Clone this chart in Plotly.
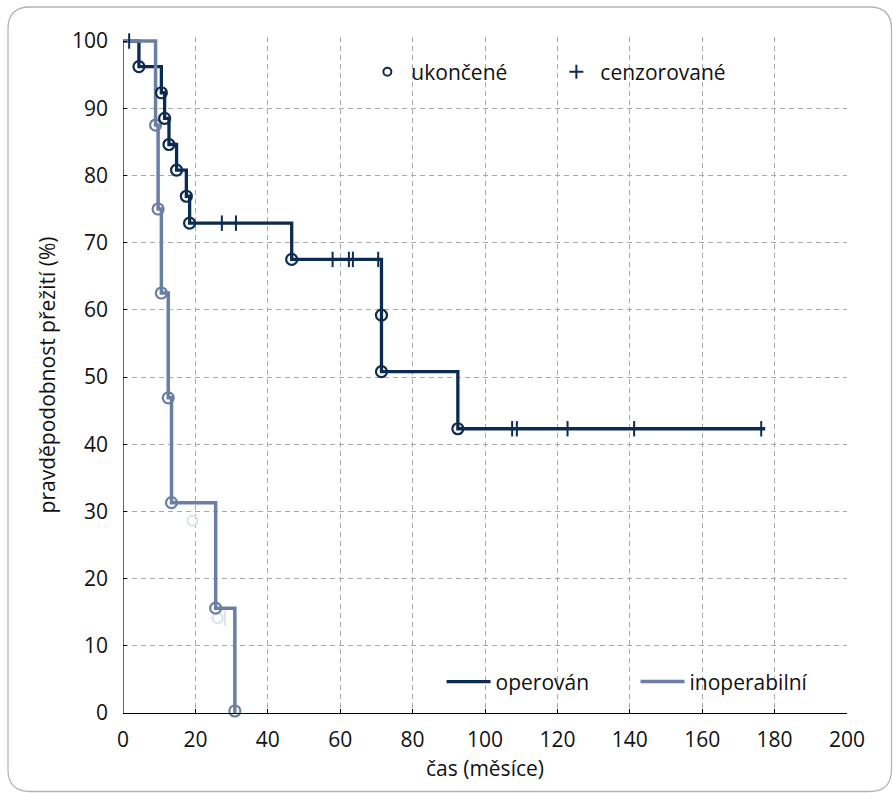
import plotly.graph_objects as go

# ---------------- data ----------------
# operován (operated) – Kaplan-Meier steps
op_x = [0, 4.4, 10.6, 11.5, 12.7, 14.8, 17.5, 18.4, 46.6, 71.4, 71.4, 92.5, 177.4]
op_y = [100, 96.2, 92.3, 88.5, 84.6, 80.8, 76.9, 72.9, 67.5, 59.2, 50.8, 42.3, 42.3]
# events (ukončené) on the operated curve
op_ev_x = [4.4, 10.6, 11.5, 12.7, 14.8, 17.5, 18.4, 46.6, 71.4, 71.4, 92.5]
op_ev_y = [96.2, 92.3, 88.5, 84.6, 80.8, 76.9, 72.9, 67.5, 59.2, 50.8, 42.3]
# censored (cenzorované) on the operated curve
op_cen_x = [1.7, 27.3, 31.2, 57.9, 62.4, 63.5, 70.5, 107.5, 108.8, 122.8, 141.2, 176.3]
op_cen_y = [100, 72.9, 72.9, 67.5, 67.5, 67.5, 67.5, 42.3, 42.3, 42.3, 42.3, 42.3]

# inoperabilní (inoperable)
in_x = [0, 9.0, 9.7, 10.6, 12.5, 13.4, 25.6, 30.9]
in_y = [100, 87.5, 75.0, 62.5, 46.9, 31.3, 15.6, 0.0]
in_ev_x = [9.0, 9.7, 10.6, 12.5, 13.4, 25.6, 30.9]
in_ev_y = [87.5, 75.0, 62.5, 46.9, 31.3, 15.6, 0.3]

# faint ghost marks visible in the original
ghost_ev_x = [19.2, 26.1]
ghost_ev_y = [28.6, 14.1]
ghost_cen_x = [28.1]
ghost_cen_y = [14.1]

x_ticks = [0, 20, 40, 60, 80, 100, 120, 140, 160, 180, 200]
y_ticks = [0, 10, 20, 30, 40, 50, 60, 70, 80, 90, 100]
x_grid = [20, 40, 60, 80, 100, 120, 140, 160, 180]
y_grid = [10, 20, 30, 40, 50, 60, 70, 80, 90]

DARK = "#0c2b50"
LIGHT = "#6b7ea3"
GHOST = "#d6e4f2"
FONT = "Open Sans"
FS = 21

fig = go.Figure()

fig.add_trace(go.Scatter(x=ghost_ev_x, y=ghost_ev_y, mode="markers", showlegend=False,
                         marker=dict(symbol="circle-open", size=10, color=GHOST, line=dict(width=2))))
fig.add_trace(go.Scatter(x=ghost_cen_x, y=ghost_cen_y, mode="markers", showlegend=False,
                         marker=dict(symbol="line-ns", size=11, color=GHOST, line=dict(width=2, color=GHOST))))

fig.add_trace(go.Scatter(x=op_x, y=op_y, mode="lines", name="operován", legend="legend2",
                         line=dict(color=DARK, width=3.3, shape="hv")))
fig.add_trace(go.Scatter(x=in_x, y=in_y, mode="lines", name="inoperabilní", legend="legend2",
                         line=dict(color=LIGHT, width=3.5, shape="hv")))

fig.add_trace(go.Scatter(x=in_ev_x, y=in_ev_y, mode="markers", showlegend=False, cliponaxis=False,
                         marker=dict(symbol="circle-open", size=11, color=LIGHT, line=dict(width=2.2))))
fig.add_trace(go.Scatter(x=op_ev_x, y=op_ev_y, mode="markers", showlegend=False, cliponaxis=False,
                         marker=dict(symbol="circle-open", size=11, color=DARK, line=dict(width=2.2))))
fig.add_trace(go.Scatter(x=op_cen_x, y=op_cen_y, mode="markers", showlegend=False, cliponaxis=False,
                         marker=dict(symbol="line-ns", size=11, color=DARK, line=dict(width=2, color=DARK))))

# legend-only entries
fig.add_trace(go.Scatter(x=[None], y=[None], mode="markers", name="ukončené", legend="legend",
                         marker=dict(symbol="circle-open", size=8, color=DARK, line=dict(width=2))))
fig.add_trace(go.Scatter(x=[None], y=[None], mode="markers", name="cenzorované", legend="legend",
                         marker=dict(symbol="cross-thin", size=10, color=DARK, line=dict(width=2, color=DARK))))

# rounded frame around the whole chart (pixel -> paper conversion)
ML, MR, MT, MB = 123, 46, 37, 80
W, H = 893, 793
PW, PH = W - ML - MR, H - MT - MB


def px(xp):
    return (xp - ML) / PW


def py(yp):
    return (H - MB - yp) / PH


fl, fr, ft, fb, rad = 8, 891.5, 7, 791.5, 22
path = (f"M {px(fl + rad)},{py(ft)} L {px(fr - rad)},{py(ft)} "
        f"Q {px(fr)},{py(ft)} {px(fr)},{py(ft + rad)} "
        f"L {px(fr)},{py(fb - rad)} Q {px(fr)},{py(fb)} {px(fr - rad)},{py(fb)} "
        f"L {px(fl + rad)},{py(fb)} Q {px(fl)},{py(fb)} {px(fl)},{py(fb - rad)} "
        f"L {px(fl)},{py(ft + rad)} Q {px(fl)},{py(ft)} {px(fl + rad)},{py(ft)} Z")
fig.add_shape(type="path", path=path, xref="paper", yref="paper",
              line=dict(color="#b4b4b4", width=1.3), layer="below")
# y axis line from 0 to 100 only
fig.add_shape(type="line", x0=0, x1=0, y0=0, y1=100, xref="x", yref="y",
              line=dict(color="black", width=1.2))

fig.update_layout(
    width=W, height=H,
    margin=dict(l=ML, r=MR, t=MT, b=MB),
    paper_bgcolor="white", plot_bgcolor="white",
    font=dict(family=FONT, size=FS, color="#111111"),
    xaxis=dict(range=[0, 200], tickvals=x_ticks, ticks="inside", ticklen=4, tickcolor="black",
               showgrid=False, zeroline=False, showline=True, linecolor="black", linewidth=1.2,
               ticklabelstandoff=8,
               tickfont=dict(size=FS), title=dict(text="čas (měsíce)", font=dict(size=FS), standoff=9),
               minor=dict(tickvals=x_grid, showgrid=True, gridcolor="#aaaaaa", gridwidth=1,
                          griddash="5px,4px", ticks="")),
    yaxis=dict(range=[0, 100.6], tickvals=y_ticks, ticks="inside", ticklen=4, tickcolor="black",
               showgrid=False, zeroline=False, showline=False,
               ticklabelstandoff=14,
               tickfont=dict(size=FS), title=dict(text="pravděpodobnost přežití (%)", font=dict(size=FS), standoff=10),
               minor=dict(tickvals=y_grid, showgrid=True, gridcolor="#aaaaaa", gridwidth=1,
                          griddash="5px,4px", ticks="")),
    legend=dict(orientation="h", x=0.332, y=0.948, xanchor="left", yanchor="middle",
                bgcolor="rgba(0,0,0,0)", font=dict(size=FS), entrywidth=136, itemwidth=38),
    legend2=dict(orientation="h", x=0.440, y=0.046, xanchor="left", yanchor="middle",
                 bgcolor="rgba(0,0,0,0)", font=dict(size=FS), entrywidth=135, itemwidth=44),
)

fig.write_html("out.html", config={"displayModeBar": False})

# remove default page margin so the figure sits at the window's top-left corner
with open("out.html", "r", encoding="utf-8") as f:
    html = f.read()
html = html.replace("<head>", "<head><style>html,body{margin:0;padding:0;overflow:hidden;}</style>", 1)
with open("out.html", "w", encoding="utf-8") as f:
    f.write(html)
